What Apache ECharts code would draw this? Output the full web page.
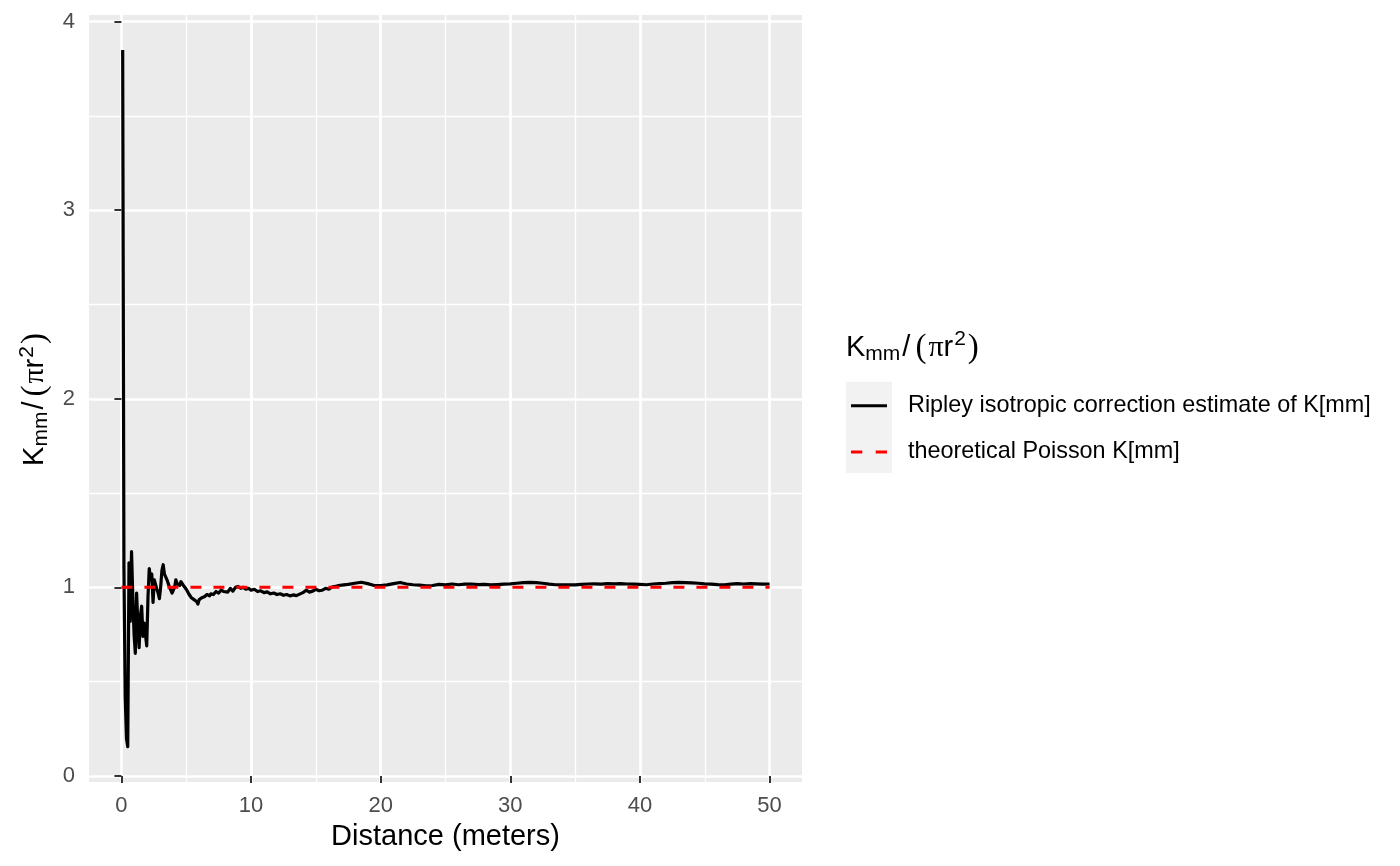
<!DOCTYPE html>
<html>
<head>
<meta charset="utf-8">
<title>Kmm / (pi r^2)</title>
<script src="https://cdn.jsdelivr.net/npm/echarts@6/dist/echarts.min.js"></script>
<style>
    html, body {margin: 0; padding: 0; background: #fff;}
    #chart {width: 1400px; height: 866px;}
</style>
</head>
<body>
<div id="chart"></div>
<script>
// distance r (meters) and Ripley isotropic estimate of K[mm] / (pi r^2)
var distance = [
    0.098, 0.195, 0.293, 0.391, 0.488, 0.586, 0.684, 0.781, 0.879, 0.977,
    1.074, 1.172, 1.27, 1.367, 1.465, 1.563, 1.66, 1.758, 1.855, 1.953,
    2.051, 2.148, 2.246, 2.344, 2.441, 2.539, 2.637, 2.734, 2.832, 2.93,
    3.027, 3.125, 3.223, 3.32, 3.418, 3.516, 3.613, 3.711, 3.809, 3.906,
    4.004, 4.102, 4.199, 4.297, 4.395, 4.492, 4.59, 4.688, 4.785, 4.883,
    5.0, 5.1, 5.2, 5.3, 5.4, 5.5, 5.6, 5.7, 5.8, 5.9,
    6.0, 6.1, 6.2, 6.3, 6.4, 6.5, 6.6, 6.7, 6.8, 6.9,
    7.0, 7.1, 7.2, 7.3, 7.4, 7.5, 7.6, 7.7, 7.8, 7.9,
    8.0, 8.2, 8.4, 8.6, 8.8, 9.0, 9.2, 9.4, 9.6, 9.8,
    10.0, 10.25, 10.5, 10.75, 11.0, 11.25, 11.5, 11.75, 12.0, 12.25, 12.5, 12.75,
    13.0, 13.25, 13.5, 13.75, 14.0, 14.25, 14.5, 14.75, 15.0, 15.25, 15.5, 15.75,
    16.0, 16.25, 16.5, 16.75, 17.0, 17.5, 18.0, 18.5, 19.0, 19.5,
    20.0, 20.5, 21.0, 21.5, 22.0, 22.5, 23.0, 23.5, 24.0, 24.5,
    25.0, 25.5, 26.0, 26.5, 27.0, 27.5, 28.0, 28.5, 29.0, 29.5,
    30.0, 30.5, 31.0, 31.5, 32.0, 32.5, 33.0, 33.5, 34.0, 34.5,
    35.0, 35.5, 36.0, 36.5, 37.0, 37.5, 38.0, 38.5, 39.0, 39.5,
    40.0, 40.5, 41.0, 41.5, 42.0, 42.5, 43.0, 43.5, 44.0, 44.5,
    45.0, 45.5, 46.0, 46.5, 47.0, 47.5, 48.0, 48.5, 49.0, 49.5, 50.0
];
var ripleyK = [
    3.85, 1.1, 0.42, 0.2, 0.155, 1.13, 0.82, 1.19, 0.95, 0.75,
    0.65, 0.97, 0.8, 0.68, 0.85, 0.9, 0.74, 0.81, 0.75, 0.69,
    0.95, 1.1, 1.04, 1.07, 0.92, 1.04, 1.05, 0.99, 0.97, 0.94,
    1.0, 1.09, 1.12, 1.07, 1.06, 1.04, 1.05, 1.0, 0.985, 0.97,
    0.96, 1.0, 1.04, 1.02, 1.03, 1.01, 1.03, 1.035, 1.01, 1.0,
    0.99, 0.978, 0.965, 0.97, 0.945, 0.952, 0.935, 0.942, 0.925, 0.912,
    0.935, 0.93, 0.945, 0.94, 0.95, 0.958, 0.962, 0.952, 0.955, 0.966,
    0.972, 0.962, 0.968, 0.978, 0.98, 0.97, 0.975, 0.986, 0.99, 0.978,
    0.985, 0.975, 0.995, 0.98, 1.0, 1.005, 0.995, 1.0, 0.99, 0.995,
    0.985, 0.99, 0.978, 0.982, 0.972, 0.976, 0.966, 0.97, 0.962, 0.966, 0.958, 0.962,
    0.955, 0.96, 0.956, 0.964, 0.972, 0.985, 0.975, 0.98, 0.99, 0.982, 0.985, 0.995,
    0.99, 1.002, 1.005, 1.01, 1.012, 1.016, 1.022, 1.027, 1.02, 1.01,
    1.01, 1.013, 1.02, 1.026, 1.018, 1.014, 1.012, 1.008, 1.01, 1.016,
    1.013, 1.018, 1.014, 1.017, 1.018, 1.015, 1.016, 1.013, 1.015, 1.017,
    1.019, 1.022, 1.025, 1.027, 1.025, 1.022, 1.017, 1.014, 1.013, 1.014,
    1.013, 1.016, 1.018, 1.019, 1.017, 1.02, 1.019, 1.02, 1.018, 1.017,
    1.016, 1.014, 1.018, 1.02, 1.022, 1.025, 1.026, 1.025, 1.024, 1.022,
    1.019, 1.017, 1.015, 1.014, 1.017, 1.02, 1.018, 1.02, 1.019, 1.017, 1.018
];
// theoretical Poisson K[mm] / (pi r^2)
var theoDistance = [0, 50];
var theoK = [1, 1];

var xTicks = [0, 10, 20, 30, 40, 50];
var xMinorTicks = [5, 15, 25, 35, 45];
var yTicks = [0, 1, 2, 3, 4];
var yMinorTicks = [0.5, 1.5, 2.5, 3.5];

var seriesNames = ['Ripley isotropic correction estimate of K[mm]', 'theoretical Poisson K[mm]'];

function pairs(xs, ys) {
    var out = [];
    for (var i = 0; i < xs.length; i++) out.push([xs[i], ys[i]]);
    return out;
}

// plotmath-like label K_mm/(pi r^2)
var kLabel = '{k|K}{s|mm}{sl|/}{p|(}{pi|\u03c0}{k|r}{u|2}{p|)}';
var kRich = {
    k: {fontSize: 29, fontFamily: 'Liberation Sans', fontWeight: 'normal', color: '#000', verticalAlign: 'middle'},
    sl: {fontSize: 29, fontFamily: 'Liberation Sans', fontWeight: 'normal', color: '#000', verticalAlign: 'middle', padding: [0, 3, 0, 2]},
    s: {fontSize: 21, fontFamily: 'Liberation Sans', fontWeight: 'normal', color: '#000', padding: [12, 0, 0, 0], verticalAlign: 'middle'},
    u: {fontSize: 21, fontFamily: 'Liberation Sans', fontWeight: 'normal', color: '#000', padding: [0, 0, 17, 1], verticalAlign: 'middle'},
    p: {fontSize: 33, fontFamily: 'Liberation Serif', fontWeight: 'normal', color: '#000', verticalAlign: 'middle', padding: [0, 2, 0, 2]},
    pi: {fontSize: 30, fontFamily: 'Liberation Serif', fontWeight: 'normal', color: '#000', verticalAlign: 'middle'}
};

var tickLabel = {fontSize: 22, fontFamily: 'Liberation Sans', color: '#4D4D4D'};
var tickLine = {color: '#333333', width: 2};

var option = {
    animation: false,
    backgroundColor: '#ffffff',
    textStyle: {fontFamily: 'Liberation Sans'},
    title: {
        text: kLabel,
        left: 846, top: 329, padding: 0,
        textStyle: {fontWeight: 'normal', rich: kRich}
    },
    legend: {
        orient: 'vertical',
        left: 851, top: 394.3, padding: 0,
        itemWidth: 36, itemHeight: 24, itemGap: 23.2,
        selectedMode: false,
        data: [
            {name: seriesNames[0], icon: 'path://M0,0h36v3h-36z'},
            {name: seriesNames[1], icon: 'path://M0,0h11v3h-11zM24,0h11v3h-11z'}
        ],
        textStyle: {fontSize: 23.4, fontFamily: 'Liberation Sans', color: '#000', padding: [0, 0, 0, 16]}
    },
    graphic: [{
        type: 'rect', z: 0,
        shape: {x: 846, y: 381.7, width: 46, height: 91.3},
        style: {fill: '#F2F2F2'}
    }],
    grid: {
        left: 89, top: 15, width: 713, height: 767,
        show: true, backgroundColor: '#EBEBEB', borderWidth: 0
    },
    xAxis: [{
        type: 'value', min: -2.5, max: 52.5,
        name: 'Distance (meters)', nameLocation: 'middle', nameGap: 40,
        nameTextStyle: {fontSize: 29, fontFamily: 'Liberation Sans', color: '#000'},
        axisLine: {show: false},
        axisTick: {show: true, length: 7, lineStyle: tickLine, customValues: xTicks},
        axisLabel: Object.assign({margin: 13, customValues: xTicks}, tickLabel),
        splitLine: {show: true, lineStyle: {color: '#ffffff', width: 2.7}}
    }, {
        type: 'value', min: -2.5, max: 52.5, position: 'bottom',
        axisLine: {show: false},
        axisTick: {show: false, customValues: xMinorTicks},
        axisLabel: {show: false, customValues: xMinorTicks},
        splitLine: {show: true, lineStyle: {color: '#ffffff', width: 1.35}}
    }],
    yAxis: [{
        type: 'value', min: -0.032, max: 4.035,
        name: kLabel, nameLocation: 'middle', nameGap: 33,
        nameTextStyle: {rich: kRich},
        axisLine: {show: false},
        axisTick: {show: true, length: 7, lineStyle: tickLine, customValues: yTicks},
        axisLabel: Object.assign({margin: 14, customValues: yTicks}, tickLabel),
        splitLine: {show: true, lineStyle: {color: '#ffffff', width: 2.7}}
    }, {
        type: 'value', min: -0.032, max: 4.035, position: 'left',
        axisLine: {show: false},
        axisTick: {show: false, customValues: yMinorTicks},
        axisLabel: {show: false, customValues: yMinorTicks},
        splitLine: {show: true, lineStyle: {color: '#ffffff', width: 1.35}}
    }],
    series: [{
        name: seriesNames[0],
        type: 'line',
        xAxisIndex: 0, yAxisIndex: 0,
        data: pairs(distance, ripleyK),
        symbol: 'none', showSymbol: false,
        color: '#000000',
        lineStyle: {color: '#000000', width: 3.2, join: 'round'},
        z: 3
    }, {
        name: seriesNames[1],
        type: 'line',
        xAxisIndex: 0, yAxisIndex: 0,
        data: pairs(theoDistance, theoK),
        symbol: 'none', showSymbol: false,
        color: '#FF0000',
        lineStyle: {color: '#FF0000', width: 3, type: [11, 12]},
        z: 4
    }]
};

var myChart = echarts.init(document.getElementById('chart'));
myChart.setOption(option);
window.addEventListener('resize', function () {
    myChart.resize();
});
</script>
</body>
</html>
